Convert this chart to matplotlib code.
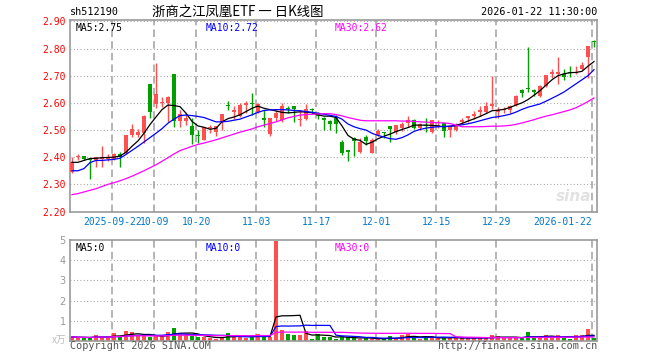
import numpy as np
import pandas as pd
import matplotlib
matplotlib.use("Agg")
from matplotlib import pyplot as plt

# daily K-line, sh512190, 2025-09-11 .. 2026-01-22
open_ = [2.347, 2.400, 2.405, 2.392, 2.389, 2.394, 2.392, 2.392, 2.412, 2.414,
         2.480, 2.481, 2.490, 2.669, 2.595, 2.598, 2.600, 2.706, 2.534, 2.535,
         2.515, 2.481, 2.465, 2.507, 2.494, 2.530, 2.593, 2.567, 2.551, 2.593,
         2.601, 2.567, 2.546, 2.484, 2.544, 2.536, 2.580, 2.588, 2.536, 2.539,
         2.578, 2.563, 2.546, 2.534, 2.546, 2.456, 2.425, 2.469, 2.420, 2.474,
         2.416, 2.481, 2.492, 2.514, 2.494, 2.506, 2.527, 2.537, 2.506, 2.519,
         2.494, 2.515, 2.524, 2.500, 2.500, 2.531, 2.545, 2.551, 2.568, 2.567,
         2.590, 2.568, 2.572, 2.572, 2.592, 2.649, 2.655, 2.649, 2.625, 2.661,
         2.708, 2.708, 2.707, 2.715, 2.710, 2.726, 2.768, 2.827]
high = [2.402, 2.410, 2.406, 2.396, 2.401, 2.441, 2.410, 2.415, 2.420, 2.480,
        2.521, 2.503, 2.555, 2.670, 2.745, 2.622, 2.625, 2.706, 2.572, 2.562,
        2.543, 2.500, 2.512, 2.520, 2.515, 2.559, 2.608, 2.588, 2.598, 2.607,
        2.637, 2.598, 2.573, 2.546, 2.575, 2.600, 2.590, 2.590, 2.573, 2.595,
        2.582, 2.565, 2.548, 2.536, 2.555, 2.463, 2.427, 2.475, 2.470, 2.480,
        2.469, 2.504, 2.494, 2.516, 2.520, 2.528, 2.551, 2.542, 2.524, 2.544,
        2.537, 2.537, 2.526, 2.516, 2.524, 2.546, 2.552, 2.569, 2.588, 2.604,
        2.700, 2.583, 2.586, 2.592, 2.628, 2.650, 2.806, 2.650, 2.664, 2.703,
        2.724, 2.770, 2.724, 2.735, 2.735, 2.752, 2.808, 2.832]
low = [2.343, 2.390, 2.390, 2.318, 2.365, 2.365, 2.385, 2.390, 2.363, 2.410,
       2.473, 2.476, 2.453, 2.546, 2.582, 2.583, 2.530, 2.510, 2.510, 2.518,
       2.448, 2.453, 2.463, 2.490, 2.478, 2.500, 2.573, 2.540, 2.549, 2.563,
       2.555, 2.561, 2.510, 2.478, 2.534, 2.530, 2.562, 2.530, 2.515, 2.537,
       2.560, 2.539, 2.500, 2.500, 2.490, 2.409, 2.387, 2.404, 2.416, 2.445,
       2.414, 2.478, 2.470, 2.457, 2.485, 2.496, 2.510, 2.502, 2.500, 2.494,
       2.488, 2.506, 2.475, 2.475, 2.498, 2.527, 2.530, 2.540, 2.551, 2.563,
       2.579, 2.546, 2.563, 2.563, 2.588, 2.620, 2.640, 2.625, 2.622, 2.660,
       2.690, 2.669, 2.684, 2.696, 2.705, 2.720, 2.690, 2.804]
close = [2.383, 2.403, 2.395, 2.388, 2.400, 2.399, 2.400, 2.412, 2.400, 2.480,
         2.503, 2.494, 2.551, 2.567, 2.632, 2.601, 2.620, 2.534, 2.560, 2.545,
         2.482, 2.479, 2.512, 2.512, 2.515, 2.559, 2.589, 2.572, 2.592, 2.600,
         2.596, 2.595, 2.537, 2.546, 2.563, 2.590, 2.577, 2.576, 2.540, 2.579,
         2.575, 2.552, 2.537, 2.522, 2.522, 2.416, 2.420, 2.460, 2.457, 2.460,
         2.465, 2.497, 2.488, 2.502, 2.518, 2.522, 2.537, 2.506, 2.521, 2.515,
         2.537, 2.518, 2.497, 2.514, 2.514, 2.536, 2.551, 2.558, 2.571, 2.588,
         2.594, 2.572, 2.577, 2.588, 2.625, 2.635, 2.652, 2.639, 2.661, 2.702,
         2.712, 2.710, 2.696, 2.711, 2.713, 2.741, 2.808, 2.825]

# moving averages as drawn on the chart
ma5 = [2.381, 2.381, 2.388, 2.395, 2.396, 2.398, 2.399, 2.400, 2.404, 2.418,
       2.440, 2.460, 2.488, 2.520, 2.548, 2.575, 2.592, 2.590, 2.586, 2.562,
       2.532, 2.515, 2.510, 2.503, 2.506, 2.530, 2.542, 2.548, 2.556, 2.568,
       2.580, 2.588, 2.580, 2.575, 2.570, 2.565, 2.563, 2.565, 2.567, 2.566,
       2.564, 2.556, 2.551, 2.551, 2.546, 2.515, 2.480, 2.466, 2.462, 2.447,
       2.455, 2.468, 2.477, 2.485, 2.494, 2.502, 2.509, 2.518, 2.518, 2.518,
       2.517, 2.515, 2.512, 2.514, 2.517, 2.524, 2.533, 2.541, 2.550, 2.560,
       2.571, 2.573, 2.576, 2.583, 2.592, 2.600, 2.612, 2.628, 2.645, 2.665,
       2.685, 2.700, 2.707, 2.711, 2.712, 2.716, 2.735, 2.752]
ma10 = [2.350, 2.350, 2.358, 2.380, 2.388, 2.388, 2.390, 2.392, 2.396, 2.410,
        2.425, 2.440, 2.456, 2.472, 2.488, 2.505, 2.525, 2.540, 2.553, 2.555,
        2.553, 2.550, 2.546, 2.538, 2.530, 2.530, 2.532, 2.536, 2.540, 2.548,
        2.556, 2.565, 2.572, 2.574, 2.575, 2.575, 2.574, 2.572, 2.571, 2.568,
        2.565, 2.562, 2.558, 2.554, 2.550, 2.540, 2.522, 2.512, 2.505, 2.500,
        2.488, 2.480, 2.474, 2.468, 2.466, 2.472, 2.482, 2.495, 2.502, 2.507,
        2.510, 2.512, 2.513, 2.514, 2.516, 2.519, 2.523, 2.528, 2.534, 2.540,
        2.546, 2.549, 2.553, 2.558, 2.566, 2.576, 2.584, 2.590, 2.596, 2.606,
        2.617, 2.628, 2.640, 2.655, 2.670, 2.685, 2.700, 2.722]
ma30 = [2.262, 2.266, 2.272, 2.278, 2.284, 2.292, 2.300, 2.306, 2.313, 2.321,
        2.330, 2.340, 2.350, 2.361, 2.372, 2.385, 2.398, 2.412, 2.424, 2.432,
        2.440, 2.447, 2.452, 2.458, 2.464, 2.471, 2.478, 2.485, 2.492, 2.498,
        2.504, 2.512, 2.518, 2.524, 2.530, 2.537, 2.545, 2.550, 2.555, 2.557,
        2.558, 2.559, 2.560, 2.560, 2.557, 2.552, 2.546, 2.541, 2.536, 2.534,
        2.534, 2.534, 2.534, 2.534, 2.534, 2.533, 2.533, 2.532, 2.530, 2.529,
        2.528, 2.527, 2.526, 2.524, 2.518, 2.512, 2.512, 2.512, 2.512, 2.513,
        2.514, 2.514, 2.515, 2.517, 2.521, 2.526, 2.532, 2.538, 2.545, 2.551,
        2.556, 2.562, 2.568, 2.574, 2.582, 2.593, 2.605, 2.618]

# volume (x 10k)
volume = [0.20, 0.17, 0.17, 0.15, 0.28, 0.20, 0.17, 0.40, 0.20, 0.48,
          0.43, 0.28, 0.23, 0.20, 0.23, 0.23, 0.43, 0.65, 0.37, 0.28,
          0.25, 0.20, 0.20, 0.13, 0.10, 0.20, 0.40, 0.23, 0.23, 0.13,
          0.23, 0.33, 0.23, 0.20, 4.95, 0.53, 0.33, 0.28, 0.28, 0.48,
          0.10, 0.37, 0.20, 0.20, 0.10, 0.20, 0.20, 0.15, 0.10, 0.15,
          0.10, 0.10, 0.10, 0.23, 0.10, 0.28, 0.37, 0.17, 0.10, 0.17,
          0.23, 0.13, 0.15, 0.13, 0.17, 0.15, 0.15, 0.15, 0.15, 0.15,
          0.28, 0.23, 0.15, 0.15, 0.15, 0.15, 0.43, 0.15, 0.15, 0.28,
          0.20, 0.28, 0.15, 0.10, 0.28, 0.28, 0.58, 0.15]

date_pos = [7, 14, 21, 31, 41, 51, 61, 71, 87]
date_lbl = ["2025-09-22", "10-09", "10-20", "11-03", "11-17",
            "12-01", "12-15", "12-29", "2026-01-22"]
price_ticks = [2.20, 2.30, 2.40, 2.50, 2.60, 2.70, 2.80, 2.90]
vol_ticks = [1, 2, 3, 4, 5]

RED = "#ff5050"
GREEN = "#00a000"
GRID = "#a8a8a8"
MONO = "DejaVu Sans Mono"
W, H = 660, 360


def px(l, t, r, b):
    return [l / W, 1 - b / H, (r - l) / W, (b - t) / H]


def ftext(x, y, s, **kw):
    fig.text(x / W, 1 - y / H, s, **kw)


def style(ax):
    for sp in ax.spines.values():
        sp.set_color("#999999")
        sp.set_linewidth(1.2)
    ax.tick_params(length=0)
    for p in np.array(date_pos) - 0.25:
        ax.axvline(p, color=GRID, lw=1.2, ls=(0, (4.5, 2.5)), zorder=0)


o = np.array(open_)
c = np.array(close)
x = np.arange(len(c))
cols = np.where(c >= o, RED, GREEN)

fig = plt.figure(figsize=(6.6, 3.6), dpi=100)

# price panel
ax = fig.add_axes(px(70, 20, 597, 211.5))
style(ax)
for t in price_ticks:
    ax.axhline(t, color="#999999", lw=0.8, ls=(0, (0.8, 2.2)), zorder=0)
ax.vlines(x, low, high, color=cols, lw=1, zorder=2)
ax.bar(x, np.maximum(np.abs(c - o), 0.004), bottom=np.minimum(o, c),
       width=0.82, color=cols, linewidth=0, zorder=3)
ax.plot(x, ma5, color="black", lw=0.9, zorder=4)
ax.plot(x, ma10, color="#0000ff", lw=0.9, zorder=4)
ax.plot(x, ma30, color="#ff00ff", lw=0.9, zorder=4)
ax.set_xlim(-0.33, 87.5)
ax.set_ylim(2.20, 2.905)
ax.set_yticks(price_ticks)
ax.set_yticklabels([f"{t:.2f}" for t in price_ticks], color="red",
                   family=MONO, fontsize=7)
ax.tick_params(axis="y", pad=3)
ax.set_xticks(np.array(date_pos) - 0.25)
ax.set_xticklabels(date_lbl, color="#0078c8", family=MONO, fontsize=7)
ax.tick_params(axis="x", pad=4)
ax.get_xticklabels()[-1].set_ha("right")
ax.text(0.01, 0.985, f"MA5:{ma5[-1]:.2f}", transform=ax.transAxes,
        va="top", family=MONO, fontsize=7, color="black")
ax.text(0.257, 0.985, f"MA10:{ma10[-1]:.2f}", transform=ax.transAxes,
        va="top", family=MONO, fontsize=7, color="#0000ff")
ax.text(0.503, 0.985, f"MA30:{ma30[-1]:.2f}", transform=ax.transAxes,
        va="top", family=MONO, fontsize=7, color="#ff00ff")
ax.text(0.99, 0.04, "sina", transform=ax.transAxes, ha="right", va="bottom",
        fontsize=11, style="italic", weight="bold", color="#e2e2e2", zorder=1)

# volume panel
vx = fig.add_axes(px(70, 240, 597, 341))
style(vx)
for t in vol_ticks[:-1]:
    vx.axhline(t, color="#999999", lw=0.8, ls=(0, (0.8, 2.2)), zorder=0)
vx.bar(x, volume, width=0.82, color=cols, linewidth=0, zorder=2)
vol = pd.Series(volume)
vx.plot(x, vol.rolling(5, min_periods=1).mean(), color="black", lw=0.9, zorder=3)
vx.plot(x, vol.rolling(10, min_periods=1).mean(), color="#0000ff", lw=0.9, zorder=3)
vx.plot(x, vol.rolling(30, min_periods=1).mean(), color="#ff00ff", lw=0.9, zorder=3)
vx.set_xlim(-0.33, 87.5)
vx.set_ylim(0, 5)
vx.set_xticks([])
vx.set_yticks(vol_ticks)
vx.set_yticklabels([str(t) for t in vol_ticks], color="#999999", fontsize=7)
vx.tick_params(axis="y", pad=3)
vx.text(0.01, 0.97, "MA5:0", transform=vx.transAxes, va="top",
        family=MONO, fontsize=7, color="black")
vx.text(0.257, 0.97, "MA10:0", transform=vx.transAxes, va="top",
        family=MONO, fontsize=7, color="#0000ff")
vx.text(0.503, 0.97, "MA30:0", transform=vx.transAxes, va="top",
        family=MONO, fontsize=7, color="#ff00ff")

# header / footer
ftext(70, 12, "sh512190", family=MONO, fontsize=7.3, va="center")
ftext(238, 12, "浙商之江凤凰ETF 一 日K线图", ha="center", va="center",
      family=["Noto Sans CJK SC", "DejaVu Sans"], fontsize=9.6)
ftext(597, 12, "2026-01-22 11:30:00", ha="right", va="center",
      family=MONO, fontsize=7.3)
ftext(66, 340, "x万", ha="right", va="center", color="#bbbbbb",
      family=["Noto Sans CJK SC", "DejaVu Sans"], fontsize=7)
ftext(70, 346, "Copyright 2026 SINA.COM", va="center", color="#555555",
      family=MONO, fontsize=7.3)
ftext(597, 346, "http://finance.sina.com.cn", ha="right", va="center",
      color="#555555", family=MONO, fontsize=7.3)

fig.savefig("out.png", dpi=100)
